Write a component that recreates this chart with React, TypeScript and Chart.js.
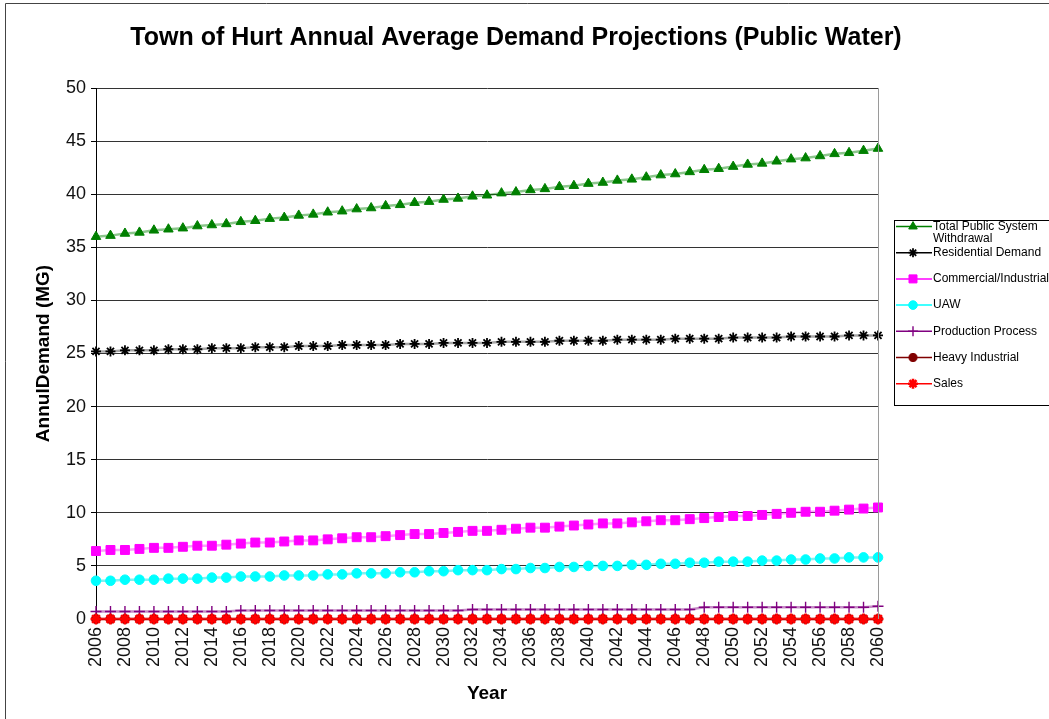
import React, { useEffect, useRef } from 'react';
import { Chart, registerables } from 'chart.js';
import { drawPoint } from 'chart.js/helpers';

Chart.register(...registerables);

const years = [
  '2006', '2007', '2008', '2009', '2010', '2011', '2012', '2013', '2014', '2015',
  '2016', '2017', '2018', '2019', '2020', '2021', '2022', '2023', '2024', '2025',
  '2026', '2027', '2028', '2029', '2030', '2031', '2032', '2033', '2034', '2035',
  '2036', '2037', '2038', '2039', '2040', '2041', '2042', '2043', '2044', '2045',
  '2046', '2047', '2048', '2049', '2050', '2051', '2052', '2053', '2054', '2055',
  '2056', '2057', '2058', '2059', '2060',
];

const totalPublic = [
  36.0, 36.1, 36.3, 36.4, 36.6, 36.7, 36.8, 37.0, 37.1, 37.2,
  37.4, 37.5, 37.7, 37.8, 38.0, 38.1, 38.3, 38.4, 38.6, 38.7,
  38.9, 39.0, 39.2, 39.3, 39.5, 39.6, 39.8, 39.9, 40.1, 40.2,
  40.4, 40.5, 40.7, 40.8, 41.0, 41.1, 41.3, 41.4, 41.6, 41.8,
  41.9, 42.1, 42.3, 42.4, 42.6, 42.8, 42.9, 43.1, 43.3, 43.4,
  43.6, 43.8, 43.9, 44.1, 44.3,
];

const residential = [
  25.2, 25.2, 25.3, 25.3, 25.3, 25.4, 25.4, 25.4, 25.5, 25.5,
  25.5, 25.6, 25.6, 25.6, 25.7, 25.7, 25.7, 25.8, 25.8, 25.8,
  25.8, 25.9, 25.9, 25.9, 26.0, 26.0, 26.0, 26.0, 26.1, 26.1,
  26.1, 26.1, 26.2, 26.2, 26.2, 26.2, 26.3, 26.3, 26.3, 26.3,
  26.4, 26.4, 26.4, 26.4, 26.5, 26.5, 26.5, 26.5, 26.6, 26.6,
  26.6, 26.6, 26.7, 26.7, 26.7,
];

const commercial = [
  6.4, 6.5, 6.5, 6.6, 6.7, 6.7, 6.8, 6.9, 6.9, 7.0,
  7.1, 7.2, 7.2, 7.3, 7.4, 7.4, 7.5, 7.6, 7.7, 7.7,
  7.8, 7.9, 8.0, 8.0, 8.1, 8.2, 8.3, 8.3, 8.4, 8.5,
  8.6, 8.6, 8.7, 8.8, 8.9, 9.0, 9.0, 9.1, 9.2, 9.3,
  9.3, 9.4, 9.5, 9.6, 9.7, 9.7, 9.8, 9.9, 10.0, 10.1,
  10.1, 10.2, 10.3, 10.4, 10.5,
];

const uaw = [
  3.6, 3.6, 3.7, 3.7, 3.7, 3.8, 3.8, 3.8, 3.9, 3.9,
  4.0, 4.0, 4.0, 4.1, 4.1, 4.1, 4.2, 4.2, 4.3, 4.3,
  4.3, 4.4, 4.4, 4.5, 4.5, 4.6, 4.6, 4.6, 4.7, 4.7,
  4.8, 4.8, 4.9, 4.9, 5.0, 5.0, 5.0, 5.1, 5.1, 5.2,
  5.2, 5.3, 5.3, 5.4, 5.4, 5.4, 5.5, 5.5, 5.6, 5.6,
  5.7, 5.7, 5.8, 5.8, 5.8,
];

const productionProcess = [
  0.7, 0.7, 0.7, 0.7, 0.7, 0.7, 0.7, 0.7, 0.7, 0.7,
  0.8, 0.8, 0.8, 0.8, 0.8, 0.8, 0.8, 0.8, 0.8, 0.8,
  0.8, 0.8, 0.8, 0.8, 0.8, 0.8, 0.9, 0.9, 0.9, 0.9,
  0.9, 0.9, 0.9, 0.9, 0.9, 0.9, 0.9, 0.9, 0.9, 0.9,
  0.9, 0.9, 1.1, 1.1, 1.1, 1.1, 1.1, 1.1, 1.1, 1.1,
  1.1, 1.1, 1.1, 1.1, 1.2,
];

const heavyIndustrial = [
  0, 0, 0, 0, 0, 0, 0, 0, 0, 0,
  0, 0, 0, 0, 0, 0, 0, 0, 0, 0,
  0, 0, 0, 0, 0, 0, 0, 0, 0, 0,
  0, 0, 0, 0, 0, 0, 0, 0, 0, 0,
  0, 0, 0, 0, 0, 0, 0, 0, 0, 0,
  0, 0, 0, 0, 0,
];

const sales = [
  0, 0, 0, 0, 0, 0, 0, 0, 0, 0,
  0, 0, 0, 0, 0, 0, 0, 0, 0, 0,
  0, 0, 0, 0, 0, 0, 0, 0, 0, 0,
  0, 0, 0, 0, 0, 0, 0, 0, 0, 0,
  0, 0, 0, 0, 0, 0, 0, 0, 0, 0,
  0, 0, 0, 0, 0,
];

const seriesNames = [
  ['Total Public System', 'Withdrawal'],
  ['Residential Demand'],
  ['Commercial/Industrial'],
  ['UAW'],
  ['Production Process'],
  ['Heavy Industrial'],
  ['Sales'],
];
const seriesValues = [totalPublic, residential, commercial, uaw, productionProcess, heavyIndustrial, sales];
const markerColors = ['#008000', '#000000', '#FF00FF', '#00FFFF', '#800080', '#800000', '#FF0000'];
const lineColors = [
  'rgba(0,128,0,0.45)',
  'rgba(0,0,0,0.35)',
  'rgba(255,0,255,0.4)',
  'rgba(0,230,230,0.5)',
  'rgba(128,0,128,0.45)',
  'rgba(128,0,0,0.6)',
  'rgba(255,0,0,0.75)',
];
const pointStyles = ['triangle', 'star', 'rect', 'circle', 'cross', 'circle', 'star'];
const pointRadii = [5.5, 5, 6.3, 4.8, 5.5, 4.5, 5.5];
const pointBorderWidths = [1, 1.8, 1, 1, 1.4, 1, 2.6];

const yTicks = [0, 5, 10, 15, 20, 25, 30, 35, 40, 45, 50];

const FONT = '"Liberation Sans", Arial, Helvetica, sans-serif';
const TITLE = 'Town of Hurt Annual Average Demand Projections (Public Water)';

const decorPlugin = {
  id: 'decor',
  beforeDraw(chart: any) {
    const ctx = chart.ctx;
    ctx.save();
    ctx.fillStyle = '#ffffff';
    ctx.fillRect(0, 0, chart.width, chart.height);
    ctx.restore();
  },
  afterDraw(chart: any) {
    const ctx = chart.ctx;
    const { right, top, bottom } = chart.chartArea;
    ctx.save();
    // right border of plot
    ctx.strokeStyle = '#9a9a9a';
    ctx.lineWidth = 1;
    ctx.beginPath();
    ctx.moveTo(Math.round(right) + 0.5, top);
    ctx.lineTo(Math.round(right) + 0.5, bottom);
    ctx.stroke();

    // outer frame (left & top)
    ctx.strokeStyle = '#444444';
    ctx.beginPath();
    ctx.moveTo(5.5, chart.height);
    ctx.lineTo(5.5, 3.5);
    ctx.lineTo(chart.width, 3.5);
    ctx.stroke();

    // title
    ctx.fillStyle = '#000000';
    ctx.font = `bold 25px ${FONT}`;
    ctx.textAlign = 'center';
    ctx.textBaseline = 'middle';
    ctx.fillText(TITLE, 516, 38);

    // legend
    const lx = 894.5;
    const ly = 220.5;
    ctx.strokeStyle = '#000000';
    ctx.lineWidth = 1;
    ctx.strokeRect(lx, ly, 200, 185);
    ctx.font = `12px ${FONT}`;
    ctx.textAlign = 'left';
    for (let i = 0; i < seriesNames.length; i++) {
      const y = 226.5 + i * 26.2;
      ctx.strokeStyle = markerColors[i];
      ctx.lineWidth = 1.5;
      ctx.beginPath();
      ctx.moveTo(896, y);
      ctx.lineTo(932, y);
      ctx.stroke();
      ctx.fillStyle = markerColors[i];
      ctx.strokeStyle = markerColors[i];
      ctx.lineWidth = pointBorderWidths[i];
      drawPoint(ctx, { pointStyle: pointStyles[i], rotation: 0, radius: pointRadii[i] * 0.9, borderWidth: pointBorderWidths[i] }, 913, y);
      ctx.fillStyle = '#000000';
      seriesNames[i].forEach((t, k) => {
        ctx.fillText(t, 933, y + k * 12.5);
      });
    }
    ctx.restore();
  },
};

export default function App() {
  const canvasRef = useRef<HTMLCanvasElement | null>(null);

  useEffect(() => {
    if (!canvasRef.current) return;
    const datasets = seriesValues.map((vals, i) => ({
      label: seriesNames[i].join(' '),
      data: vals,
      borderColor: lineColors[i],
      borderWidth: 2.5,
      backgroundColor: markerColors[i],
      pointStyle: pointStyles[i] as any,
      pointRadius: pointRadii[i],
      pointHoverRadius: pointRadii[i],
      pointBackgroundColor: markerColors[i],
      pointBorderColor: markerColors[i],
      pointBorderWidth: pointBorderWidths[i],
      tension: 0,
      fill: false,
      clip: false as any,
      order: seriesValues.length - i,
    }));

    const chart = new Chart(canvasRef.current, {
      type: 'line',
      data: { labels: years, datasets },
      plugins: [decorPlugin],
      options: {
        animation: false,
        responsive: false,
        devicePixelRatio: 1,
        events: [],
        layout: { padding: { top: 88, right: 171, left: 0, bottom: 0 } },
        plugins: {
          legend: { display: false },
          title: { display: false },
          tooltip: { enabled: false },
        },
        scales: {
          x: {
            type: 'category',
            offset: false,
            grid: { display: false, drawTicks: false },
            border: { display: true, color: '#000000', width: 1 },
            title: {
              display: true,
              text: 'Year',
              color: '#000000',
              font: { family: FONT, size: 19, weight: 'bold' },
              padding: { top: 0, bottom: 13.5 },
            },
            ticks: {
              autoSkip: false,
              maxRotation: 90,
              minRotation: 90,
              padding: 8,
              color: '#111111',
              font: { family: FONT, size: 18 },
              callback: (_v: any, idx: number) => (idx % 2 === 0 ? years[idx] : ''),
            },
            afterFit: (scale: any) => {
              scale.height = 100;
            },
          },
          y: {
            min: 0,
            max: 50,
            afterBuildTicks: (scale: any) => {
              scale.ticks = yTicks.map((v) => ({ value: v }));
            },
            grid: { color: '#333333', lineWidth: 1, drawTicks: true, tickLength: 5, tickColor: '#000000' },
            border: { display: true, color: '#000000', width: 1 },
            title: {
              display: true,
              text: 'AnnulDemand (MG)',
              color: '#000000',
              font: { family: FONT, size: 19, weight: 'bold' },
              padding: { top: 32, bottom: 0 },
            },
            ticks: {
              padding: 5,
              color: '#111111',
              font: { family: FONT, size: 18 },
            },
            afterFit: (scale: any) => {
              scale.width = 96;
            },
          },
        },
      } as any,
    });
    return () => chart.destroy();
  }, []);

  return (
    <div style={{ position: 'absolute', left: 0, top: 0, width: 1049, height: 719, overflow: 'hidden', background: '#fff' }}>
      <canvas ref={canvasRef} width={1049} height={719} style={{ display: 'block', width: 1049, height: 719 }} />
    </div>
  );
}
